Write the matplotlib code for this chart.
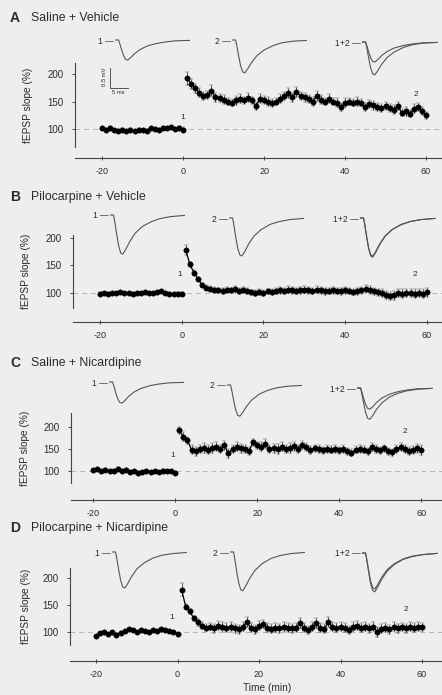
import matplotlib
matplotlib.use("Agg")
import matplotlib.pyplot as plt

W, H = 442, 695
plt.rcParams['font.family'] = ['Liberation Sans', 'DejaVu Sans']

BG = '#eeeeec'
INK = '#2b2b2b'
GREY = '#555555'

# time axis (min)
base_t = list(range(-20, 1))
post_t = list(range(1, 61))
xticks = [-20, 0, 20, 40, 60]
yticks = [100, 150, 200]

# ---- fEPSP slope (% of baseline) ----
a_base = [101, 99, 102, 98, 97, 99, 96, 98, 97, 99, 98, 97, 101, 100, 99, 102, 101, 103, 100, 102, 99]
a_base_err = [3, 2, 3, 2, 3, 2, 3, 3, 2, 3, 2, 3, 3, 2, 3, 3, 2, 3, 2, 3, 4]
a_post = [192, 182, 174, 166, 160, 162, 170, 158, 157, 153,
          150, 148, 152, 155, 152, 157, 152, 142, 155, 153,
          150, 147, 150, 155, 160, 165, 158, 168, 160, 158,
          155, 150, 160, 153, 150, 155, 150, 148, 140, 148,
          150, 148, 150, 148, 140, 145, 143, 140, 138, 142,
          138, 135, 142, 130, 132, 128, 137, 140, 133, 125]
a_post_err = [12, 9, 8, 8, 7, 7, 10, 8, 7, 8,
              7, 7, 8, 8, 7, 8, 7, 8, 8, 7,
              8, 7, 7, 8, 8, 9, 8, 9, 8, 8,
              7, 8, 9, 8, 7, 8, 7, 8, 7, 8,
              7, 7, 8, 7, 8, 7, 8, 8, 7, 8,
              7, 8, 8, 7, 8, 7, 8, 7, 7, 6]

b_base = [99, 100, 99, 100, 100, 101, 100, 100, 99, 100, 100, 101, 100, 100, 101, 103, 100, 99, 98, 99, 99]
b_base_err = [2, 2, 2, 2, 2, 2, 2, 2, 2, 2, 2, 2, 2, 2, 2, 2, 2, 2, 2, 2, 2]
b_post = [178, 152, 137, 125, 115, 110, 108, 106, 105, 104,
          106, 105, 107, 104, 106, 104, 101, 100, 102, 100,
          103, 102, 104, 105, 104, 106, 105, 104, 105, 106,
          105, 104, 106, 105, 103, 104, 105, 104, 103, 105,
          104, 102, 103, 105, 108, 105, 103, 101, 100, 97,
          95, 96, 100, 99, 100, 100, 99, 100, 99, 101]
b_post_err = [9, 5, 4, 4, 4, 5, 5, 5, 5, 5,
              5, 5, 5, 5, 5, 5, 5, 5, 5, 5,
              5, 5, 6, 6, 6, 6, 6, 6, 6, 6,
              6, 6, 6, 6, 6, 6, 6, 6, 6, 6,
              6, 6, 6, 6, 6, 7, 7, 7, 7, 7,
              7, 8, 8, 8, 8, 8, 8, 8, 8, 8]

c_base = [102, 104, 100, 103, 99, 101, 104, 100, 103, 97, 99, 96, 98, 99, 97, 100, 98, 101, 99, 100, 96]
c_base_err = [3, 3, 3, 4, 3, 3, 4, 3, 3, 3, 3, 3, 3, 3, 3, 3, 3, 3, 3, 3, 4]
c_post = [193, 178, 170, 148, 145, 150, 153, 148, 152, 155,
          150, 158, 140, 150, 155, 152, 150, 145, 165, 158,
          155, 162, 150, 152, 150, 155, 150, 153, 156, 150,
          160, 155, 148, 152, 150, 147, 150, 148, 150, 147,
          150, 145, 142, 148, 150, 148, 145, 155, 150, 147,
          152, 145, 143, 150, 155, 150, 145, 148, 152, 148]
c_post_err = [8, 10, 8, 10, 10, 10, 11, 10, 11, 10,
              10, 11, 10, 10, 10, 10, 10, 9, 8, 9,
              10, 10, 10, 10, 11, 10, 10, 11, 10, 10,
              9, 9, 9, 8, 8, 8, 9, 8, 8, 8,
              8, 8, 8, 8, 8, 8, 8, 9, 8, 8,
              8, 8, 8, 9, 9, 9, 9, 9, 10, 12]

d_base = [93, 98, 100, 97, 100, 95, 99, 102, 105, 103, 100, 103, 102, 100, 103, 102, 105, 103, 102, 100, 97]
d_base_err = [2, 2, 2, 2, 2, 2, 2, 2, 2, 2, 2, 2, 2, 2, 2, 2, 2, 2, 2, 2, 2]
d_post = [178, 147, 138, 125, 118, 112, 108, 110, 107, 112,
          110, 108, 110, 107, 105, 110, 118, 108, 105, 112,
          115, 108, 106, 108, 107, 110, 108, 107, 108, 116,
          108, 104, 110, 116, 108, 106, 118, 110, 108, 110,
          108, 104, 110, 112, 108, 110, 107, 110, 100, 106,
          108, 105, 110, 107, 109, 107, 110, 108, 110, 109]
d_post_err = [12, 5, 5, 5, 6, 7, 7, 7, 8, 8,
              8, 8, 8, 8, 8, 8, 9, 8, 8, 8,
              8, 8, 8, 8, 8, 8, 8, 8, 8, 9,
              8, 8, 8, 9, 8, 8, 9, 8, 8, 8,
              8, 8, 8, 8, 8, 8, 8, 8, 9, 8,
              8, 8, 8, 8, 8, 8, 8, 8, 8, 8]

# ---- example fEPSP traces (ms, mV) ----
trace_ms = [0, 1.0, 1.3, 1.8, 2.4, 3.0, 3.6, 4.4, 5.5, 7, 9, 11.5, 14, 17, 21]
a_tr1 = [0, 0, -0.08, -0.23, -0.39, -0.49, -0.50, -0.44, -0.34, -0.24, -0.15, -0.09, -0.05, -0.02, -0.01]
a_tr2 = [0, 0, -0.12, -0.37, -0.64, -0.80, -0.82, -0.72, -0.56, -0.39, -0.25, -0.14, -0.07, -0.03, -0.01]
b_tr1 = [0, 0, -0.15, -0.44, -0.76, -0.95, -0.98, -0.86, -0.67, -0.46, -0.29, -0.17, -0.09, -0.04, -0.01]
b_tr2 = [0, 0, -0.14, -0.43, -0.74, -0.92, -0.95, -0.84, -0.65, -0.45, -0.29, -0.16, -0.09, -0.04, -0.01]
c_tr1 = [0, 0, -0.08, -0.24, -0.41, -0.51, -0.53, -0.47, -0.36, -0.25, -0.16, -0.09, -0.05, -0.02, -0.01]
c_tr2 = [0, 0, -0.12, -0.35, -0.61, -0.76, -0.78, -0.69, -0.53, -0.37, -0.23, -0.13, -0.07, -0.03, -0.01]
d_tr1 = [0, 0, -0.14, -0.41, -0.70, -0.87, -0.90, -0.79, -0.61, -0.42, -0.27, -0.15, -0.08, -0.04, -0.01]
d_tr2 = [0, 0, -0.15, -0.44, -0.76, -0.94, -0.97, -0.85, -0.66, -0.46, -0.29, -0.16, -0.09, -0.04, -0.01]

panels = [
    dict(letter='A', title='Saline + Vehicle', title_y=18,
         base=a_base, base_err=a_base_err, post=a_post, post_err=a_post_err,
         tr1=a_tr1, tr2=a_tr2,
         rect=(75, 60, 442, 158), xlim=(-26.7, 63.95), ylim=(47.3, 225.5), ybounds=(67, 220),
         traces=[(115, 40), (232, 40), (362, 42)], lab1=(0, 121), lab2=(57.5, 163),
         ylab_xy=(28, 105), scalebar=True),
    dict(letter='B', title='Pilocarpine + Vehicle', title_y=197,
         base=b_base, base_err=b_base_err, post=b_post, post_err=b_post_err,
         tr1=b_tr1, tr2=b_tr2,
         rect=(73, 225, 442, 322), xlim=(-26.6, 63.7), ylim=(47.3, 223.6), ybounds=(73, 205),
         traces=[(110, 215), (229, 218), (360, 218)], lab1=(-0.5, 134), lab2=(57, 133),
         ylab_xy=(26, 271), scalebar=False),
    dict(letter='C', title='Saline + Nicardipine', title_y=363,
         base=c_base, base_err=c_base_err, post=c_post, post_err=c_post_err,
         tr1=c_tr1, tr2=c_tr2,
         rect=(71, 405, 442, 500), xlim=(-25.4, 65.1), ylim=(34.1, 250), ybounds=(73, 232),
         traces=[(109, 382), (227, 385), (357, 388)], lab1=(-0.5, 135), lab2=(56, 190),
         ylab_xy=(25, 448), scalebar=False),
    dict(letter='D', title='Pilocarpine + Nicardipine', title_y=528,
         base=d_base, base_err=d_base_err, post=d_post, post_err=d_post_err,
         tr1=d_tr1, tr2=d_tr2,
         rect=(70, 560, 442, 661), xlim=(-26.4, 64.9), ylim=(46.3, 233.3), ybounds=(76, 218),
         traces=[(112, 552), (230, 552), (362, 553)], lab1=(-1.5, 126), lab2=(56, 141),
         ylab_xy=(26, 606), scalebar=False),
]


def fig_rect(left, top, right, bottom):
    return [left / W, 1 - bottom / H, (right - left) / W, (bottom - top) / H]


def fx(x):
    return x / W


def fy(y):
    return 1 - y / H


fig = plt.figure(figsize=(W / 100, H / 100), dpi=100, facecolor=BG)

for p in panels:
    ax = fig.add_axes(fig_rect(*p['rect']))
    ax.set_facecolor('none')
    ax.axhline(100, color='#b5b5b5', lw=0.7, ls=(0, (5, 4)), zorder=0)
    for t, v, e in [(base_t, p['base'], p['base_err']), (post_t, p['post'], p['post_err'])]:
        ax.errorbar(t, v, yerr=e, fmt='o-', color='black', ms=3.9, lw=0.9,
                    ecolor='#3a3a3a', elinewidth=0.6, capsize=1.3, capthick=0.6,
                    markeredgewidth=0.3)
    ax.set_xlim(*p['xlim'])
    ax.set_ylim(*p['ylim'])
    ax.set_xticks(xticks)
    ax.set_xticklabels([str(v) for v in xticks])
    ax.set_yticks(yticks)
    ax.set_yticklabels([str(v) for v in yticks])
    for s in ('top', 'right'):
        ax.spines[s].set_visible(False)
    ax.spines['left'].set_bounds(*p['ybounds'])
    for s in ('left', 'bottom'):
        ax.spines[s].set_color('#444444')
        ax.spines[s].set_linewidth(0.8)
    ax.tick_params(axis='y', direction='out', length=2.5, width=0.7, colors='#444444',
                   labelsize=7, labelcolor=INK, pad=6)
    ax.tick_params(axis='x', direction='inout', length=3, width=0.7, colors='#444444',
                   labelsize=6.5, labelcolor=INK, pad=5)
    ax.text(p['lab1'][0], p['lab1'][1], '1', fontsize=6, color=INK, ha='center', va='center')
    ax.text(p['lab2'][0], p['lab2'][1], '2', fontsize=6, color=INK, ha='center', va='center')

    # panel title and y label
    fig.text(fx(10), fy(p['title_y']), p['letter'], fontsize=10, fontweight='bold',
             color=INK, va='center', ha='left')
    fig.text(fx(31), fy(p['title_y']), p['title'], fontsize=8.8, color=INK,
             va='center', ha='left')
    fig.text(fx(p['ylab_xy'][0]), fy(p['ylab_xy'][1]), 'fEPSP slope (%)', fontsize=7.3,
             color=INK, rotation=90, ha='center', va='center')

    # example traces
    labels = ['1 —', '2 —', '1+2 —']
    for i, (tx, ty) in enumerate(p['traces']):
        width = 75 if i < 2 else 80
        tax = fig.add_axes(fig_rect(tx, ty - 2, tx + width, ty + 42))
        tax.set_facecolor('none')
        tax.axis('off')
        tax.set_xlim(0, 21 * width / 75)
        tax.set_ylim(-1.05, 0.05)
        if i in (0, 2):
            tax.plot(trace_ms, p['tr1'], color=GREY, lw=0.8)
        if i in (1, 2):
            tax.plot(trace_ms, p['tr2'], color=GREY, lw=0.8)
        fig.text(fx(tx - 1), fy(ty + 1), labels[i], fontsize=6.2, color=INK,
                 ha='right', va='center')

    if p['scalebar']:
        sax = fig.add_axes(fig_rect(110, 68, 128, 88))
        sax.set_facecolor('none')
        sax.axis('off')
        sax.set_xlim(0, 5)
        sax.set_ylim(0, 0.5)
        sax.plot([0, 0, 5], [0.5, 0, 0], color=GREY, lw=0.7, clip_on=False)
        fig.text(fx(105), fy(77), '0.5 mV', fontsize=4.2, color=INK, rotation=90,
                 ha='center', va='center')
        fig.text(fx(118), fy(93), '5 ms', fontsize=4.2, color=INK, ha='center', va='center')

fig.text(fx(267), fy(688), 'Time (min)', fontsize=7.3, color=INK, ha='center', va='center')

fig.savefig('out.png', dpi=100, facecolor=BG)
